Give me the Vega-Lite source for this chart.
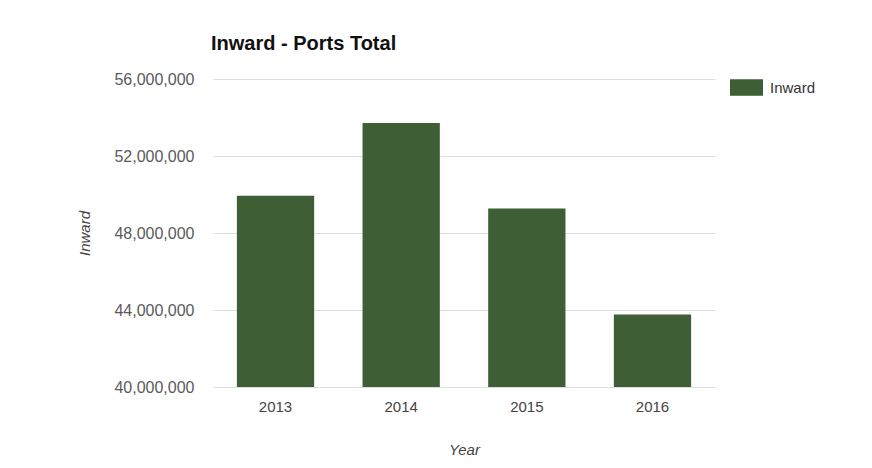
{
  "$schema": "https://vega.github.io/schema/vega-lite/v6.json",
  "autosize": {"type": "none"},
  "width": 502,
  "height": 308,
  "padding": {"left": 213, "top": 79, "right": 157, "bottom": 81},
  "background": "#ffffff",
  "title": {
    "text": "Inward - Ports Total",
    "anchor": "start",
    "frame": "group",
    "font": "Liberation Sans",
    "fontSize": 20,
    "fontWeight": "bold",
    "color": "#111111",
    "baseline": "alphabetic",
    "offset": 1,
    "dx": -2
  },
  "data": {
    "values": [
      {"Year": "2013", "Inward": 49940000, "Series": "Inward"},
      {"Year": "2014", "Inward": 53720000, "Series": "Inward"},
      {"Year": "2015", "Inward": 49270000, "Series": "Inward"},
      {"Year": "2016", "Inward": 43760000, "Series": "Inward"}
    ]
  },
  "mark": {"type": "bar", "clip": true},
  "encoding": {
    "x": {
      "field": "Year",
      "type": "nominal",
      "scale": {"paddingInner": 0.385, "paddingOuter": 0.19},
      "axis": {
        "labelAngle": 0,
        "domain": false,
        "ticks": false,
        "labelPadding": 12,
        "labelFont": "Liberation Sans",
        "labelFontSize": 15,
        "labelColor": "#444444",
        "title": "Year",
        "titleFont": "Liberation Sans",
        "titleFontSize": 15,
        "titleFontStyle": "italic",
        "titleFontWeight": "normal",
        "titleColor": "#444444",
        "titlePadding": 28
      }
    },
    "y": {
      "field": "Inward",
      "type": "quantitative",
      "scale": {"domain": [40000000, 56000000], "zero": false, "nice": false},
      "axis": {
        "values": [40000000, 44000000, 48000000, 52000000, 56000000],
        "format": ",d",
        "domain": false,
        "ticks": false,
        "gridColor": "#dddddd",
        "labelPadding": 19,
        "labelFont": "Liberation Sans",
        "labelFontSize": 16,
        "labelColor": "#5a5a5a",
        "title": "Inward",
        "titleFont": "Liberation Sans",
        "titleFontSize": 15,
        "titleFontStyle": "italic",
        "titleFontWeight": "normal",
        "titleColor": "#444444",
        "titlePadding": 21
      }
    },
    "color": {
      "field": "Series",
      "type": "nominal",
      "scale": {"range": ["#3e5e35"]},
      "legend": {
        "title": null,
        "orient": "none",
        "legendX": 517,
        "legendY": -8,
        "symbolType": "M-1,-0.5H1V0.5H-1Z",
        "symbolSize": 1089,
        "symbolStrokeWidth": 0,
        "labelFont": "Liberation Sans",
        "labelFontSize": 15,
        "labelColor": "#333333",
        "labelOffset": 7
      }
    }
  },
  "config": {"view": {"stroke": null}}
}
